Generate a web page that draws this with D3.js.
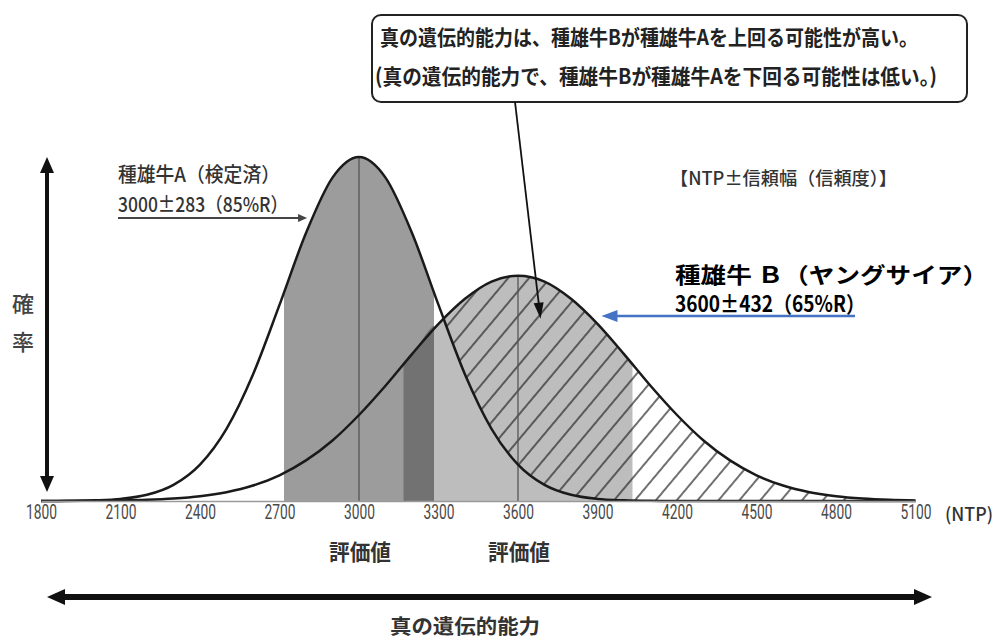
<!DOCTYPE html>
<html>
<head>
<meta charset="utf-8">
<script src="https://cdn.jsdelivr.net/npm/d3@7"></script>
<style>
  body { margin: 0; background: #fff; }
  svg { display: block; }
  text { font-family: "Noto Sans CJK JP", "Noto Sans", sans-serif; }
  .tick text { font-family: Roboto, "Liberation Sans", sans-serif; font-size: 20px; }
</style>
</head>
<body>
<svg id="chart" width="998" height="640"></svg>
<script>
// NTP grid and the two density curves (relative height, A peak = 1)
const ntp = [1800, 1900, 2000, 2100, 2200, 2300, 2400, 2500, 2600, 2700, 2800, 2900,
             3000, 3100, 3200, 3300, 3400, 3500, 3600, 3700, 3800, 3900, 4000, 4100,
             4200, 4300, 4400, 4500, 4600, 4700, 4800, 4900, 5000, 5100];
const densityA = [0.0001, 0.0005, 0.002, 0.006, 0.018, 0.047, 0.106, 0.210, 0.368, 0.570, 0.779, 0.940,
                  1.000, 0.940, 0.779, 0.570, 0.368, 0.210, 0.106, 0.047, 0.018, 0.006, 0.002, 0.0005,
                  0.0001, 0, 0, 0, 0, 0, 0, 0, 0, 0];
const densityB = [0.0001, 0.0003, 0.0007, 0.0016, 0.0034, 0.0071, 0.0138, 0.0256, 0.0449, 0.0747, 0.118, 0.176,
                  0.250, 0.335, 0.427, 0.515, 0.588, 0.638, 0.655, 0.638, 0.588, 0.515, 0.427, 0.335,
                  0.250, 0.176, 0.118, 0.0747, 0.0449, 0.0256, 0.0138, 0.0071, 0.0034, 0.0016];

const bullNames = ['種雄牛A（検定済）', '種雄牛 Ｂ（ヤングサイア）'];
const bullMeans = [3000, 3600];
const bullRanges = [283, 432];
const bullReliab = [85, 65];

const xTickValues = [1800, 2100, 2400, 2700, 3000, 3300, 3600, 3900, 4200, 4500, 4800, 5100];

const calloutLines = [
    '真の遺伝的能力は、種雄牛Bが種雄牛Aを上回る可能性が高い。',
    '(真の遺伝的能力で、種雄牛Bが種雄牛Aを下回る可能性は低い。)'
];

const W = 998, H = 640;
const x = d3.scaleLinear().domain([1800, 5100]).range([41, 915.5]);
const y = d3.scaleLinear().domain([0, 1]).range([501, 157]);

const pts = ntp.map((v, i) => ({ v, a: densityA[i], b: densityB[i] }));

const svg = d3.select('#chart');
const defs = svg.append('defs');

// hatch "/" lines
defs.append('pattern')
    .attr('id', 'hatch')
    .attr('patternUnits', 'userSpaceOnUse')
    .attr('width', 16).attr('height', 10)
    .attr('patternTransform', 'rotate(40)')
    .append('line')
    .attr('x1', 8).attr('y1', -1).attr('x2', 8).attr('y2', 11)
    .attr('stroke', '#222').attr('stroke-width', 1.3);

const areaOf = key => d3.area()
    .x(d => x(d.v))
    .y0(y(0))
    .y1(d => y(d[key]))
    .curve(d3.curveMonotoneX);
const lineOf = key => d3.line()
    .x(d => x(d.v))
    .y(d => y(d[key]))
    .curve(d3.curveMonotoneX);

// hatch shows where B lies above A (right of A's mean)
const mask = defs.append('mask').attr('id', 'hatchMask')
    .attr('maskUnits', 'userSpaceOnUse')
    .attr('x', 0).attr('y', 0).attr('width', W).attr('height', H);
mask.append('path').datum(pts).attr('d', areaOf('b')).attr('fill', '#fff');
mask.append('path').datum(pts).attr('d', areaOf('a')).attr('fill', '#000');
mask.append('rect').attr('x', 0).attr('y', 0).attr('width', x(bullMeans[0])).attr('height', H).attr('fill', '#000');

// confidence interval clips
const lo = bullMeans.map((m, i) => m - bullRanges[i]);
const hi = bullMeans.map((m, i) => m + bullRanges[i]);
function clipRect(id, a, b) {
    defs.append('clipPath').attr('id', id)
        .append('rect')
        .attr('x', x(a)).attr('y', 0)
        .attr('width', x(b) - x(a)).attr('height', H);
}
clipRect('clipA', lo[0], hi[0]);
clipRect('clipB', lo[1], hi[1]);
clipRect('clipAB', Math.max(lo[0], lo[1]), Math.min(hi[0], hi[1]));

const g = svg.append('g');

// fills: B interval, A interval, overlap
g.append('path').datum(pts).attr('d', areaOf('b'))
    .attr('fill', '#bdbdbd').attr('clip-path', 'url(#clipB)');
g.append('path').datum(pts).attr('d', areaOf('a'))
    .attr('fill', '#9c9c9c').attr('clip-path', 'url(#clipA)');
const minPts = pts.map(d => ({ v: d.v, m: Math.min(d.a, d.b) }));
g.append('path').datum(minPts).attr('d', areaOf('m'))
    .attr('fill', '#727272').attr('clip-path', 'url(#clipAB)');

// hatching
g.append('rect')
    .attr('x', 0).attr('y', 0).attr('width', W).attr('height', H)
    .attr('fill', 'url(#hatch)')
    .attr('mask', 'url(#hatchMask)');

// mean lines
[densityA, densityB].forEach((dens, i) => {
    const peak = dens[ntp.indexOf(bullMeans[i])];
    g.append('line')
        .attr('x1', x(bullMeans[i])).attr('x2', x(bullMeans[i]))
        .attr('y1', y(0)).attr('y2', y(peak))
        .attr('stroke', '#555').attr('stroke-width', 1.3);
});

// curves
['b', 'a'].forEach(k => {
    g.append('path').datum(pts).attr('d', lineOf(k))
        .attr('fill', 'none').attr('stroke', '#1a1a1a').attr('stroke-width', 2.5);
});

// x axis (narrow, tall digits as in the original)
const axis = svg.append('g')
    .attr('transform', `translate(0,${y(0)})`)
    .call(d3.axisBottom(x).tickValues(xTickValues).tickSize(0).tickPadding(4).tickFormat(d3.format('d')));
axis.attr('font-size', 20).attr('font-family', 'Roboto, sans-serif');
axis.select('.domain').attr('stroke', '#9a9a9a').attr('stroke-width', 1.5);
axis.selectAll('.tick text')
    .attr('fill', '#4a4a4a')
    .attr('font-size', 20)
    .attr('textLength', 31)
    .attr('lengthAdjust', 'spacingAndGlyphs');

// arrow helper: straight shaft + filled triangle heads
function arrow(x1, y1, x2, y2, o) {
    const ang = Math.atan2(y2 - y1, x2 - x1);
    const ux = Math.cos(ang), uy = Math.sin(ang);
    const back = o.hl * 0.8;
    const sx = o.both ? x1 + ux * back : x1, sy = o.both ? y1 + uy * back : y1;
    svg.append('line')
        .attr('x1', sx).attr('y1', sy)
        .attr('x2', x2 - ux * back).attr('y2', y2 - uy * back)
        .attr('stroke', o.color).attr('stroke-width', o.w);
    const head = (tx, ty, dx, dy) => {
        const bx = tx - dx * o.hl, by = ty - dy * o.hl;
        const px = -dy * o.hw / 2, py = dx * o.hw / 2;
        svg.append('path')
            .attr('d', `M${tx},${ty}L${bx + px},${by + py}L${bx - px},${by - py}Z`)
            .attr('fill', o.color);
    };
    head(x2, y2, ux, uy);
    if (o.both) head(x1, y1, -ux, -uy);
}

function label(tx, ty, str, o) {
    const t = svg.append('text')
        .attr('x', tx).attr('y', ty)
        .attr('dominant-baseline', 'central')
        .attr('font-size', o.size)
        .attr('font-weight', o.weight || 400)
        .attr('fill', o.color || '#333')
        .attr('text-anchor', o.anchor || 'start')
        .text(str);
    if (o.len) t.attr('textLength', o.len).attr('lengthAdjust', 'spacingAndGlyphs');
    return t;
}

// callout box
svg.append('rect')
    .attr('x', 372).attr('y', 15).attr('width', 595).attr('height', 87).attr('rx', 9)
    .attr('fill', '#fff').attr('stroke', '#222').attr('stroke-width', 2);
label(380, 36, calloutLines[0], { size: 21, weight: 700, color: '#222', len: 538 });
label(375, 75, calloutLines[1], { size: 21, weight: 700, color: '#222', len: 562 });
arrow(515, 102, x(3685), y(0.53), { w: 1.8, color: '#111', hl: 16, hw: 10 });

// y label + arrow
arrow(47, y(0) - 9, 47, y(1), { w: 4, color: '#111', hl: 16, hw: 14, both: true });
label(23, 302, '確', { size: 22, weight: 500, color: '#444', anchor: 'middle' });
label(23, 340, '率', { size: 22, weight: 500, color: '#444', anchor: 'middle' });

// bull A label
label(118, 173, bullNames[0], { size: 20, weight: 500, color: '#333', len: 162 });
label(118, 203, `${bullMeans[0]}±${bullRanges[0]}（${bullReliab[0]}%R）`, { size: 20, weight: 500, color: '#333', len: 170 });
arrow(118, 218, x(2804), 218, { w: 2.2, color: '#444', hl: 9, hw: 8 });

// legend note
label(670, 177, '【NTP±信頼幅（信頼度）】', { size: 18, weight: 500, color: '#333', len: 227 });

// bull B label
label(675, 273, bullNames[1], { size: 22, weight: 700, color: '#000', len: 313 });
label(675, 302, `${bullMeans[1]}±${bullRanges[1]}（${bullReliab[1]}%R）`, { size: 22, weight: 700, color: '#000', len: 190 });
arrow(855, 316, x(3915), 316, { w: 2.5, color: '#4472c4', hl: 16, hw: 12 });

// axis unit
label(945, 513, '(NTP)', { size: 18, weight: 500, color: '#333', len: 48 });

// evaluation value labels
bullMeans.forEach(m => {
    label(x(m) + 1, 550, '評価値', { size: 22, weight: 700, color: '#333', anchor: 'middle', len: 62 });
});

// true genetic ability arrow
arrow(47, 597, 932, 597, { w: 6, color: '#111', hl: 18, hw: 16, both: true });
label(465, 625, '真の遺伝的能力', { size: 20, weight: 700, color: '#333', anchor: 'middle', len: 150 });
</script>
</body>
</html>
